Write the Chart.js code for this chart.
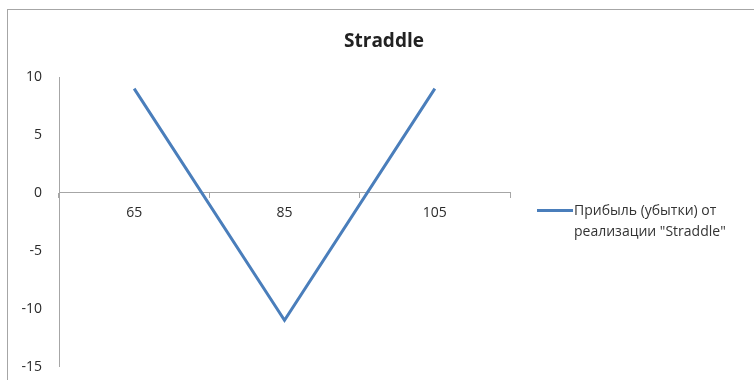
<!DOCTYPE html>
<html>
<head>
<meta charset="utf-8">
<script src="https://cdn.jsdelivr.net/npm/chart.js@4/dist/chart.umd.min.js"></script>
<style>
  html, body { margin: 0; padding: 0; background: #fff; }
  #wrap { position: relative; width: 754px; height: 380px; overflow: hidden; }
  #frame { position: absolute; left: 7px; top: 9px; width: 800px; height: 400px;
           border-left: 1px solid #a6a6a6; border-top: 1px solid #a6a6a6; box-sizing: border-box; }
  #title { position: absolute; left: 284px; width: 200px; top: 27px; text-align: center;
           font-family: "Open Sans", sans-serif; font-size: 19px; font-weight: bold; line-height: 26px; color: #222; }
  #legend { position: absolute; left: 537px; top: 199px; display: flex; align-items: flex-start;
            font-family: "Open Sans", sans-serif; font-size: 14px; line-height: 21px; color: #333; }
  #legend .swatch { width: 36px; height: 3px; background: #4a7ebb; margin-top: 10px; }
  #legend .txt { margin-left: 1px; }
  canvas { position: absolute; left: 0; top: 0; }
</style>
</head>
<body>
<div id="wrap">
  <div id="frame"></div>
  <canvas id="c" width="754" height="392"></canvas>
  <div id="title"></div>
  <div id="legend"><div class="swatch"></div><div class="txt" id="legendText"></div></div>
</div>
<script>
// Underlying price at expiry and the straddle's profit/loss
const strikes = ['65', '85', '105'];
const profit = [9, -11, 9];
const yTicks = [10, 5, 0, -5, -10, -15];
const seriesName = ['Прибыль (убытки) от', 'реализации "Straddle"'];
const chartTitle = 'Straddle';

document.getElementById('title').textContent = chartTitle;
document.getElementById('legendText').innerHTML = seriesName.join('<br>');

const axisGray = '#a6a6a6';
const textColor = '#2b2b2b';
const font = { family: '"Open Sans", sans-serif', size: 14 };

new Chart(document.getElementById('c'), {
  type: 'line',
  data: {
    labels: strikes,
    datasets: [{
      label: seriesName.join(' '),
      data: profit,
      borderColor: '#4a7ebb',
      borderWidth: 3,
      pointRadius: 0,
      tension: 0,
      fill: false
    }]
  },
  options: {
    responsive: false,
    animation: false,
    layout: { padding: { left: 0, right: 244, top: 77, bottom: 13 } },
    plugins: {
      legend: { display: false },
      tooltip: { enabled: false },
      title: { display: false }
    },
    scales: {
      x: {
        type: 'category',
        position: { y: 0 },
        offset: true,
        grid: { display: true, drawOnChartArea: false, drawTicks: true, tickLength: 5,
                offset: true, color: axisGray },
        border: { display: true, color: axisGray, width: 1 },
        ticks: { color: textColor, font: font, padding: 7 }
      },
      y: {
        min: -15,
        max: 10,
        afterFit: (s) => { s.width = 59; },
        afterBuildTicks: (s) => { s.ticks = yTicks.map(v => ({ value: v })); },
        grid: { display: false, drawTicks: false },
        border: { display: true, color: axisGray, width: 1 },
        ticks: { color: textColor, font: font, padding: 17 }
      }
    }
  }
});
</script>
</body>
</html>
